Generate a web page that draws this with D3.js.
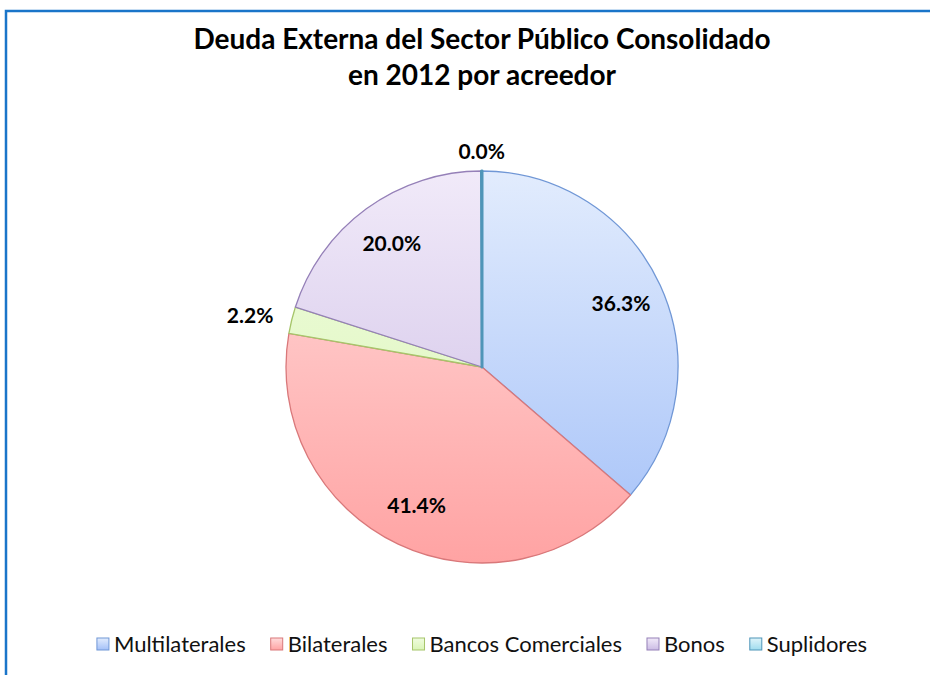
<!DOCTYPE html>
<html>
<head>
<meta charset="utf-8">
<script src="https://cdn.jsdelivr.net/npm/d3@7"></script>
<style>
  body { margin: 0; background: #fff; }
  svg { display: block; }
</style>
</head>
<body>
<script>
// datos
var categories = ["Multilaterales", "Bilaterales", "Bancos Comerciales", "Bonos", "Suplidores"]
var values = [36.3, 41.4, 2.2, 20.0, 0.04]
var labels = ["36.3%", "41.4%", "2.2%", "20.0%", "0.0%"]

var colTop = ["#e2ecfd", "#ffdcdc", "#f0fcdf", "#f1eaf9", "#dff4fa"]
var colBot = ["#a3c0f8", "#ffa3a3", "#daf5b6", "#cbbbe4", "#9fdcee"]
var strokes = ["#7097d6", "#d9787a", "#a6c56a", "#9580b8", "#4f95b8"]

var width = 930, height = 675
var cx = 482, cy = 367, r = 196

var svg = d3.select("body").append("svg")
    .attr("width", width)
    .attr("height", height)

// marco azul
svg.append("rect")
    .attr("x", 6).attr("y", 11)
    .attr("width", 940).attr("height", 700)
    .attr("fill", "none")
    .attr("stroke", "#1a75c9")
    .attr("stroke-width", 2.5)

var title = svg.append("text")
    .attr("text-anchor", "middle")
    .attr("font-family", "Lato, 'Open Sans', sans-serif")
    .attr("font-weight", "bold")
    .attr("font-size", 28)
    .attr("fill", "#000")
title.append("tspan").attr("x", 482).attr("y", 49).text("Deuda Externa del Sector Público Consolidado")
title.append("tspan").attr("x", 482).attr("y", 85).text("en 2012 por acreedor")

var defs = svg.append("defs")
categories.forEach(function(c, i) {
  var g = defs.append("linearGradient")
      .attr("id", "grad" + i)
      .attr("gradientUnits", "userSpaceOnUse")
      .attr("x1", 0).attr("y1", -r).attr("x2", 0).attr("y2", r)
  g.append("stop").attr("offset", "0%").attr("stop-color", colTop[i])
  g.append("stop").attr("offset", "100%").attr("stop-color", colBot[i])
})

var pie = d3.pie().sort(null).value(function(d) { return d })
var arcs = pie(values)
var arc = d3.arc().innerRadius(0).outerRadius(r)

var g = svg.append("g").attr("transform", "translate(" + cx + "," + cy + ")")

g.selectAll("path.slice")
  .data(arcs)
  .enter().append("path")
    .attr("class", "slice")
    .attr("d", arc)
    .attr("fill", function(d, i) { return "url(#grad" + i + ")" })
    .attr("stroke", function(d, i) { return strokes[i] })
    .attr("stroke-width", function(d, i) { return i == 4 ? 3 : 1.3 })
    .attr("stroke-linejoin", "round")

// etiquetas: dentro para las grandes, fuera para las pequeñas
var inner = d3.arc().innerRadius(r * 0.78).outerRadius(r * 0.78)
var outer = d3.arc().innerRadius(r * 1.1).outerRadius(r * 1.1)

g.selectAll("text.lbl")
  .data(arcs)
  .enter().append("text")
    .attr("class", "lbl")
    .attr("text-anchor", "middle")
    .attr("dy", "0.35em")
    .attr("font-family", "Lato, 'Open Sans', sans-serif")
    .attr("font-weight", "bold")
    .attr("font-size", 21)
    .attr("fill", "#000")
    .text(function(d, i) { return labels[i] })
    .attr("transform", function(d) {
      var p
      if (d.data > 5) {
        p = inner.centroid(d)
      } else {
        p = outer.centroid(d)
        var a = (d.startAngle + d.endAngle) / 2
        p[0] += Math.sin(a) * this.getComputedTextLength() / 2
      }
      return "translate(" + p + ")"
    })

// leyenda
var leg = svg.append("g")
var x = 0, gap = 25, box = 12
categories.forEach(function(c, i) {
  var lg = defs.append("linearGradient")
      .attr("id", "legGrad" + i)
      .attr("x1", 0).attr("y1", 0).attr("x2", 0).attr("y2", 1)
  lg.append("stop").attr("offset", "0%").attr("stop-color", colTop[i])
  lg.append("stop").attr("offset", "100%").attr("stop-color", colBot[i])

  var it = leg.append("g")
  it.append("rect")
      .attr("width", box).attr("height", box)
      .attr("y", -box / 2 - 1)
      .attr("fill", "url(#legGrad" + i + ")")
      .attr("stroke", strokes[i])
      .attr("stroke-width", 1)
  var t = it.append("text")
      .attr("x", box + 5)
      .attr("dy", "0.33em")
      .attr("font-family", "Lato, 'Open Sans', sans-serif")
      .attr("font-size", 22)
      .attr("fill", "#111")
      .text(c)
  var w = box + 5 + t.node().getComputedTextLength()
  it.attr("transform", "translate(" + x + ",0)")
  x += w + gap
})
var total = x - gap
leg.attr("transform", "translate(" + (cx - total / 2) + ",645)")
</script>
</body>
</html>
